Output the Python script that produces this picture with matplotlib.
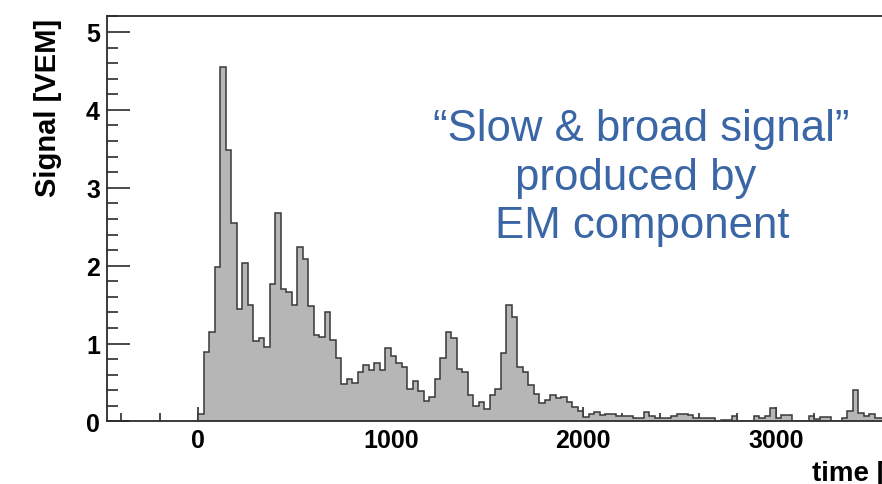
#!/usr/bin/env python
"""Recreates a ROOT-style signal trace histogram (Signal [VEM] vs time) with an annotation."""

import numpy as np
import matplotlib
matplotlib.use("Agg")
import matplotlib.pyplot as plt
from matplotlib.ticker import MultipleLocator

# bins of 200/7 ns starting at t = 0, values in VEM
bin_width = 200.0 / 7.0
signal = [
    0.09, 0.89, 1.15, 1.98, 4.55, 3.49, 2.55, 1.44, 2.03, 1.50,   # 0 - 285 ns
    1.03, 1.07, 0.96, 1.76, 2.68, 1.70, 1.66, 1.50, 2.24, 2.08,   # 285 - 570 ns
    1.48, 1.11, 1.08, 1.40, 1.04, 0.82, 0.48, 0.54, 0.50, 0.63,
    0.72, 0.665, 0.75, 0.665, 0.945, 0.845, 0.75, 0.70, 0.42, 0.52,
    0.39, 0.26, 0.32, 0.55, 0.81, 1.155, 1.07, 0.68, 0.64, 0.335,
    0.205, 0.25, 0.165, 0.345, 0.42, 0.885, 1.495, 1.34, 0.70, 0.64,
    0.465, 0.35, 0.24, 0.28, 0.335, 0.30, 0.31, 0.25, 0.19, 0.13,
    0.06, 0.10, 0.125, 0.08, 0.10, 0.095, 0.07, 0.065, 0.07, 0.05,
    0.05, 0.125, 0.07, 0.05, 0.05, 0.05, 0.07, 0.10, 0.10, 0.085,
    0.05, 0.05, 0.05, 0.05, 0.0, 0.02, 0.02, 0.07, 0.0, 0.0,
    0.0, 0.065, 0.04, 0.065, 0.17, 0.05, 0.08, 0.08, 0.0, 0.0,
    0.0, 0.07, 0.03, 0.06, 0.06, 0.0, 0.0, 0.05, 0.14, 0.41,
    0.11, 0.07, 0.10, 0.04, 0.04,
]

annotation_lines = ["\u201cSlow & broad signal\u201d", "produced by", "EM component"]

x_range = (-475, 3900)
y_range = (0, 5.2)

plt.rcParams['font.family'] = ['Liberation Sans', 'DejaVu Sans']

fig = plt.figure(figsize=(8.82, 4.85), dpi=100)
# the frame runs past the right edge of the picture, as in the cropped original
ax = fig.add_axes([0.1212, 0.1289, 0.9549, 0.8352])

edges = np.arange(len(signal) + 1) * bin_width
ax.stairs(signal, edges, fill=True, color='#b6b6b6', zorder=2)
ax.stairs(signal, edges, color='#383838', lw=1.1, zorder=3)

ax.set_xlim(*x_range)
ax.set_ylim(*y_range)

ax.xaxis.set_major_locator(MultipleLocator(1000))
ax.xaxis.set_minor_locator(MultipleLocator(200))
ax.yaxis.set_major_locator(MultipleLocator(1))
ax.yaxis.set_minor_locator(MultipleLocator(0.2))

ax.tick_params(axis='both', which='both', direction='in', top=False, right=False,
               color='#2c2c2c', width=1.2, labelsize=18, pad=5)
ax.tick_params(axis='x', which='major', length=10)
ax.tick_params(axis='x', which='minor', length=5.5)
ax.tick_params(axis='y', which='major', length=16.5)
ax.tick_params(axis='y', which='minor', length=8)
for lab in ax.get_xticklabels() + ax.get_yticklabels():
    lab.set_fontweight('bold')

for sp in ax.spines.values():
    sp.set_color('#2c2c2c')
    sp.set_linewidth(1.3)

# ROOT puts the axis titles at the far ends of the axes
fig.text(48 / 882, 1 - 19 / 485, "Signal [VEM]", rotation=90, ha='center', va='top',
         fontsize=21, fontweight='bold')
fig.text(812 / 882, 4 / 485, "time [ns]", ha='left', va='baseline',
         fontsize=20, fontweight='bold')

baselines = [141, 190, 238]
centers = [641, 636, 642]
for line, yb, xc in zip(annotation_lines, baselines, centers):
    fig.text(xc / 882, 1 - yb / 485, line, ha='center', va='baseline',
             fontsize=31.5, color='#3a66a6')

fig.savefig("out.png", dpi=100)
